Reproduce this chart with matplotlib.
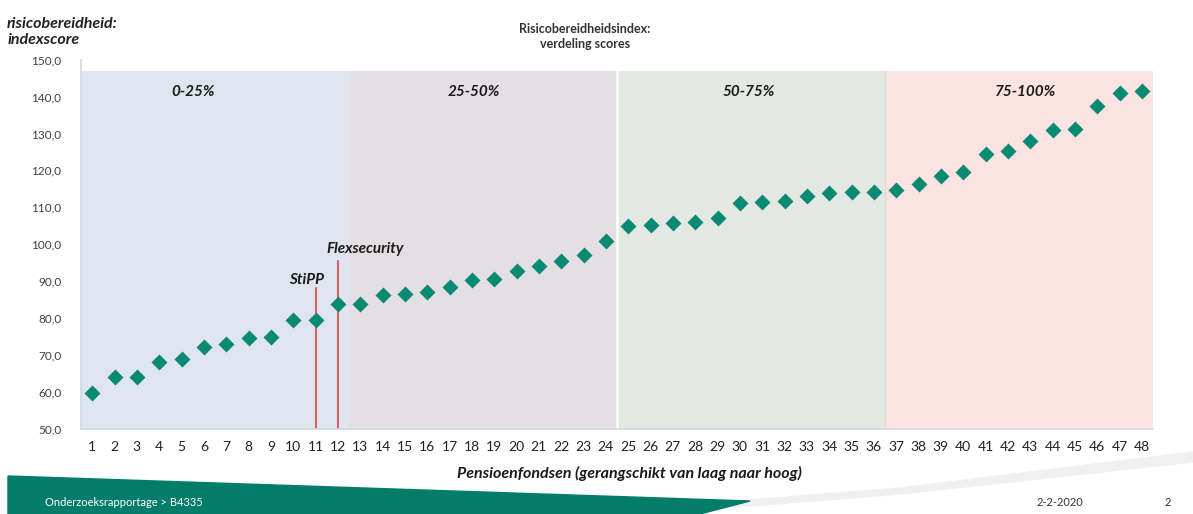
import numpy as np
import matplotlib.pyplot as plt
from matplotlib.patches import Polygon

# Data
funds = np.arange(1, 49)
scores = [59.6, 64.1, 64.1, 68.0, 69.0, 72.0, 72.9, 74.5, 74.9, 79.4,
          79.4, 83.8, 83.8, 86.1, 86.4, 87.1, 88.5, 90.3, 90.6, 92.8,
          94.2, 95.3, 97.1, 100.9, 105.0, 105.2, 105.7, 106.1, 107.0, 111.1,
          111.4, 111.7, 113.1, 113.8, 114.0, 114.0, 114.7, 116.3, 118.6, 119.6,
          124.4, 125.3, 128.0, 130.8, 131.3, 137.3, 140.9, 141.4]

band_labels = ['0-25%', '25-50%', '50-75%', '75-100%']
band_starts = [0.5, 12.5, 24.5, 36.5]
band_width = 12
band_top = 147
band_colors = ['#dfe5ee', '#e4dfe3', '#e3e9e2', '#fbe3e2']
band_label_x = [5.5, 18.1, 30.4, 42.8]

marked_funds = ['StiPP', 'Flexsecurity']
marked_x = [11, 12]
marked_top = [88.2, 95.5]

yticks = np.arange(50, 151, 10)

plt.rcParams['font.family'] = ['Lato', 'DejaVu Sans']

fig = plt.figure(figsize=(11.93, 5.14), dpi=100)
ax = fig.add_axes([0.0679, 0.166, 0.8986, 0.718])

# quartile bands
ax.bar(band_starts, [band_top - 50] * 4, width=band_width, bottom=50,
       align='edge', color=band_colors, zorder=0)
ax.axvline(24.5, ymax=(band_top - 50) / 100, color='white', lw=1.8, zorder=1)
ax.axvline(36.5, ymax=(band_top - 50) / 100, color='#e0d6d2', lw=0.8, zorder=1)
for lx, lab in zip(band_label_x, band_labels):
    ax.text(lx, 141.2, lab, ha='center', va='center', fontsize=11,
            fontweight='bold', fontstyle='italic', color='#1a1a1a')

# red marker lines
for nm, mx, mt in zip(marked_funds, marked_x, marked_top):
    ax.plot([mx, mx], [50, mt], color='#d9362b', lw=1.1, zorder=2)
ax.text(10.6, 90.2, marked_funds[0], ha='center', va='center', fontsize=11,
        fontweight='bold', fontstyle='italic', color='#1a1a1a')
ax.text(11.5, 98.6, marked_funds[1], ha='left', va='center', fontsize=11,
        fontweight='bold', fontstyle='italic', color='#1a1a1a')

ax.plot(funds, scores, 'D', color='#0a8a72', markersize=8.5, mec='none', zorder=3)

ax.set_xlim(0.5, 48.5)
ax.set_ylim(50, 150)
ax.set_xticks(funds)
ax.set_xticklabels([str(i) for i in funds], fontsize=10, color='#222222')
ax.set_yticks(yticks)
ax.set_yticklabels([f'{v:.1f}'.replace('.', ',') for v in yticks],
                   fontsize=8.5, color='#404040')
ax.tick_params(length=0)
ax.tick_params(axis='x', pad=9)
ax.tick_params(axis='y', pad=14)
for s in ['top', 'right']:
    ax.spines[s].set_visible(False)
ax.spines['left'].set_color('#cfd8e3')
ax.spines['left'].set_linewidth(1.2)
ax.spines['bottom'].set_color('#d4d8dc')
ax.spines['bottom'].set_linewidth(1.2)

fig.text(0.006, 0.967, 'risicobereidheid:\nindexscore', ha='left', va='top',
         fontsize=11.5, fontweight='bold', fontstyle='italic', color='#222222',
         linespacing=1.15)
fig.text(0.49, 0.955, 'Risicobereidheidsindex:\nverdeling scores', ha='center',
         va='top', fontsize=9, fontweight='bold', color='#333333',
         linespacing=1.3)
fig.text(0.528, 0.078, 'Pensioenfondsen (gerangschikt van laag naar hoog)',
         ha='center', va='center', fontsize=11.5, fontweight='bold',
         fontstyle='italic', color='#1a1a1a')

# footer band
W, H = 1193.0, 514.0
swoosh = Polygon([(650 / W, 1 - 508 / H), (900 / W, 1 - 488 / H),
                  (1193 / W, 1 - 452 / H), (1193 / W, 1 - 462 / H),
                  (900 / W, 1 - 494 / H), (750 / W, 1 - 506 / H)], closed=True,
                 transform=fig.transFigure, color='#f0f0f0', zorder=0)
fig.patches.append(swoosh)
green = Polygon([(8 / W, 1 - 476 / H), (750 / W, 1 - 501 / H),
                 (700 / W, 0), (8 / W, 0)], closed=True,
                transform=fig.transFigure, color='#037d6a', zorder=1)
fig.patches.append(green)
fig.text(45 / W, 1 - 503 / H, 'Onderzoeksrapportage > B4335', ha='left',
         va='center', fontsize=8, color='white')
fig.text(1060 / W, 1 - 503 / H, '2-2-2020', ha='center', va='center',
         fontsize=8, color='#333333')
fig.text(1168 / W, 1 - 503 / H, '2', ha='center', va='center',
         fontsize=8, color='#333333')

fig.savefig('out.png', dpi=100)
